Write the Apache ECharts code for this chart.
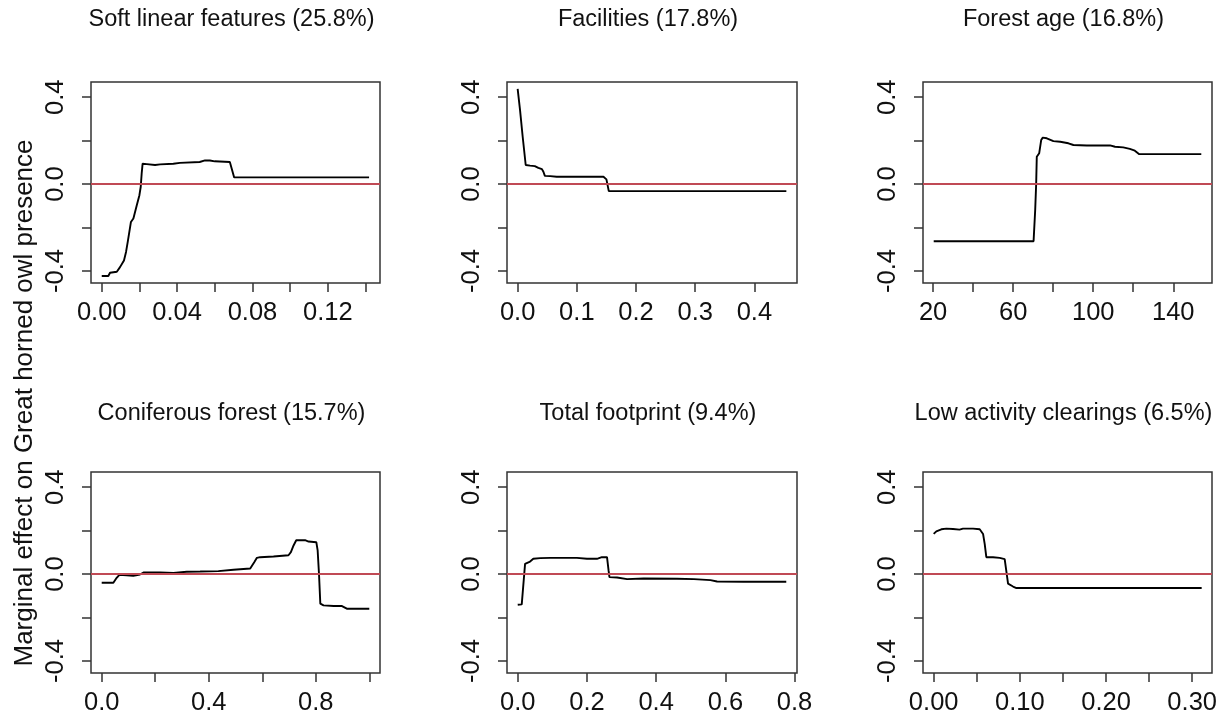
<!DOCTYPE html>
<html>
<head>
<meta charset="utf-8">
<script src="https://cdn.jsdelivr.net/npm/echarts@6/dist/echarts.min.js"></script>
<style>
  html, body { margin: 0; padding: 0; background: #fff; }
  #chart { width: 1223px; height: 717px; }
</style>
</head>
<body>
<div id="chart"></div>
<script>
// Partial dependence curves for each predictor
const panelTitles = [
  'Soft linear features (25.8%)',
  'Facilities (17.8%)',
  'Forest age (16.8%)',
  'Coniferous forest (15.7%)',
  'Total footprint (9.4%)',
  'Low activity clearings (6.5%)'
];

const softLinearX = [0, 0.0035, 0.0044, 0.008, 0.0097, 0.0118, 0.0129, 0.0138, 0.0147, 0.0155, 0.0168, 0.0186, 0.02, 0.0207, 0.0212, 0.0217, 0.0239, 0.0283, 0.031, 0.038, 0.0415, 0.052, 0.0548, 0.0574, 0.06, 0.068, 0.0689, 0.0703, 0.1419];
const softLinearY = [-0.423, -0.423, -0.408, -0.403, -0.382, -0.351, -0.312, -0.266, -0.263, -0.174, -0.158, -0.097, -0.051, -0.012, 0.049, 0.094, 0.092, 0.088, 0.091, 0.094, 0.098, 0.102, 0.109, 0.109, 0.105, 0.102, 0.095, 0.031, 0.031];

const facilitiesX = [0, 0.004, 0.0085, 0.0136, 0.021, 0.029, 0.035, 0.041, 0.0435, 0.046, 0.055, 0.066, 0.1, 0.145, 0.15, 0.154, 0.454];
const facilitiesY = [0.438, 0.342, 0.218, 0.088, 0.085, 0.083, 0.075, 0.069, 0.057, 0.038, 0.037, 0.034, 0.034, 0.034, 0.022, -0.032, -0.032];

const forestAgeX = [20.3, 70.2, 71.0, 71.5, 71.8, 73.0, 74.0, 74.8, 76.8, 80.1, 83.5, 87.6, 90.1, 96.8, 108.4, 110.9, 115.0, 118.3, 120.8, 123.0, 154.0];
const forestAgeY = [-0.263, -0.263, -0.12, 0.003, 0.126, 0.142, 0.203, 0.214, 0.211, 0.198, 0.195, 0.188, 0.18, 0.178, 0.178, 0.172, 0.169, 0.162, 0.154, 0.138, 0.138];

const coniferX = [0, 0.0436, 0.056, 0.066, 0.0935, 0.118, 0.143, 0.156, 0.218, 0.268, 0.318, 0.368, 0.436, 0.4925, 0.555, 0.561, 0.57, 0.58, 0.592, 0.642, 0.698, 0.707, 0.717, 0.727, 0.76, 0.773, 0.802, 0.807, 0.812, 0.817, 0.829, 0.867, 0.898, 0.916, 1.0];
const coniferY = [-0.04, -0.04, -0.017, -0.003, -0.005, -0.008, -0.0015, 0.0077, 0.0077, 0.006, 0.011, 0.012, 0.014, 0.02, 0.026, 0.032, 0.055, 0.075, 0.078, 0.081, 0.087, 0.101, 0.132, 0.156, 0.156, 0.150, 0.147, 0.109, 0.0015, -0.136, -0.144, -0.147, -0.147, -0.159, -0.159];

const footprintX = [0, 0.0116, 0.0164, 0.0212, 0.024, 0.0357, 0.045, 0.065, 0.0936, 0.171, 0.2, 0.229, 0.243, 0.258, 0.2625, 0.265, 0.287, 0.316, 0.364, 0.46, 0.509, 0.557, 0.576, 0.653, 0.776];
const footprintY = [-0.141, -0.139, -0.133, 0.0475, 0.051, 0.058, 0.0705, 0.0736, 0.075, 0.075, 0.0705, 0.0705, 0.078, 0.078, 0.017, -0.0138, -0.0153, -0.023, -0.02, -0.021, -0.023, -0.0276, -0.034, -0.035, -0.035];

const clearingsX = [0, 0.0031, 0.0089, 0.0147, 0.0224, 0.030, 0.034, 0.0457, 0.0534, 0.0573, 0.0592, 0.0611, 0.0689, 0.0766, 0.0824, 0.0844, 0.0863, 0.0882, 0.0921, 0.096, 0.311];
const clearingsY = [0.185, 0.197, 0.2065, 0.2095, 0.208, 0.205, 0.2095, 0.2095, 0.2065, 0.185, 0.139, 0.078, 0.078, 0.075, 0.069, 0.063, -0.044, -0.052, -0.057, -0.064, -0.064];

// Tick marks and labelled ticks on each x axis
const softLinearTicks = [0, 0.02, 0.04, 0.06, 0.08, 0.10, 0.12, 0.14];
const softLinearLabels = [0, 0.04, 0.08, 0.12];
const facilitiesTicks = [0, 0.1, 0.2, 0.3, 0.4];
const facilitiesLabels = [0, 0.1, 0.2, 0.3, 0.4];
const forestAgeTicks = [20, 40, 60, 80, 100, 120, 140];
const forestAgeLabels = [20, 60, 100, 140];
const coniferTicks = [0, 0.2, 0.4, 0.6, 0.8, 1.0];
const coniferLabels = [0, 0.4, 0.8];
const footprintTicks = [0, 0.2, 0.4, 0.6, 0.8];
const footprintLabels = [0, 0.2, 0.4, 0.6, 0.8];
const clearingsTicks = [0, 0.05, 0.10, 0.15, 0.20, 0.25, 0.30];
const clearingsLabels = [0, 0.1, 0.2, 0.3];

// Shared y axis ticks
const yTicks = [-0.4, -0.2, 0, 0.2, 0.4];
const yLabels = [-0.4, 0, 0.4];

const panels = [
  { x: softLinearX, y: softLinearY, ticks: softLinearTicks, labels: softLinearLabels, dec: 2, min: -0.0057, max: 0.1477 },
  { x: facilitiesX, y: facilitiesY, ticks: facilitiesTicks, labels: facilitiesLabels, dec: 1, min: -0.018, max: 0.472 },
  { x: forestAgeX, y: forestAgeY, ticks: forestAgeTicks, labels: forestAgeLabels, dec: 0, min: 14.95, max: 159.35 },
  { x: coniferX, y: coniferY, ticks: coniferTicks, labels: coniferLabels, dec: 1, min: -0.04, max: 1.04 },
  { x: footprintX, y: footprintY, ticks: footprintTicks, labels: footprintLabels, dec: 1, min: -0.031, max: 0.807 },
  { x: clearingsX, y: clearingsY, ticks: clearingsTicks, labels: clearingsLabels, dec: 2, min: -0.0124, max: 0.323 }
];

// Plot boxes (left, width) per column and (top, height) per row
const colBoxes = [[91, 289], [507, 290], [923, 289]];
const rowBoxes = [[82, 201], [472, 201]];
const titleTops = [8, 402];

const FONT = '"Liberation Sans", Arial, sans-serif';
const frameColor = '#333';

const grids = [], xAxes = [], yAxes = [], series = [], titles = [];

panels.forEach((p, i) => {
  const col = i % 3, row = Math.floor(i / 3);
  const [left, width] = colBoxes[col];
  const [top, height] = rowBoxes[row];
  grids.push({
    left: left, top: top, width: width, height: height,
    show: true, borderColor: frameColor, borderWidth: 1.5, backgroundColor: 'transparent'
  });
  xAxes.push({
    type: 'value', gridIndex: i, min: p.min, max: p.max, position: 'bottom',
    axisLine: { show: false, onZero: false },
    splitLine: { show: false },
    axisTick: { show: true, inside: false, length: 9, customValues: p.ticks, lineStyle: { color: frameColor, width: 1.5 } },
    axisLabel: {
      customValues: p.labels, margin: 17, color: '#111', fontSize: 25.5, fontFamily: FONT,
      formatter: v => Number(v).toFixed(p.dec)
    }
  });
  yAxes.push({
    type: 'value', gridIndex: i, min: -0.455, max: 0.47, position: 'left',
    axisLine: { show: false, onZero: false },
    splitLine: { show: false },
    axisTick: { show: true, inside: false, length: 9, customValues: yTicks, lineStyle: { color: frameColor, width: 1.5 } },
    axisLabel: {
      customValues: yLabels, rotate: 90, margin: 22, color: '#111', fontSize: 25.5, fontFamily: FONT,
      formatter: v => Number(v).toFixed(1)
    }
  });
  series.push({
    type: 'line', xAxisIndex: i, yAxisIndex: i,
    data: p.x.map((xv, k) => [xv, p.y[k]]),
    showSymbol: false, symbol: 'none',
    lineStyle: { color: '#000', width: 1.9 },
    silent: true,
    markLine: {
      silent: true, symbol: 'none', label: { show: false },
      lineStyle: { color: '#c04a55', width: 2, type: 'solid' },
      data: [{ yAxis: 0 }]
    }
  });
  titles.push({
    text: panelTitles[i],
    left: left + width / 2 - 4, top: titleTops[row], textAlign: 'center', padding: 0,
    textStyle: { fontSize: 23.5, fontWeight: 'normal', color: '#111', fontFamily: FONT }
  });
});

const chart = echarts.init(document.getElementById('chart'), null, { renderer: 'canvas' });
chart.setOption({
  animation: false,
  backgroundColor: '#fff',
  title: titles,
  grid: grids,
  xAxis: xAxes,
  yAxis: yAxes,
  series: series,
  graphic: [{
    type: 'text', x: 25, y: 403, rotation: Math.PI / 2,
    style: {
      text: 'Marginal effect on Great horned owl presence',
      font: '26px ' + FONT, fill: '#111', align: 'center', verticalAlign: 'middle'
    }
  }]
});
</script>
</body>
</html>
